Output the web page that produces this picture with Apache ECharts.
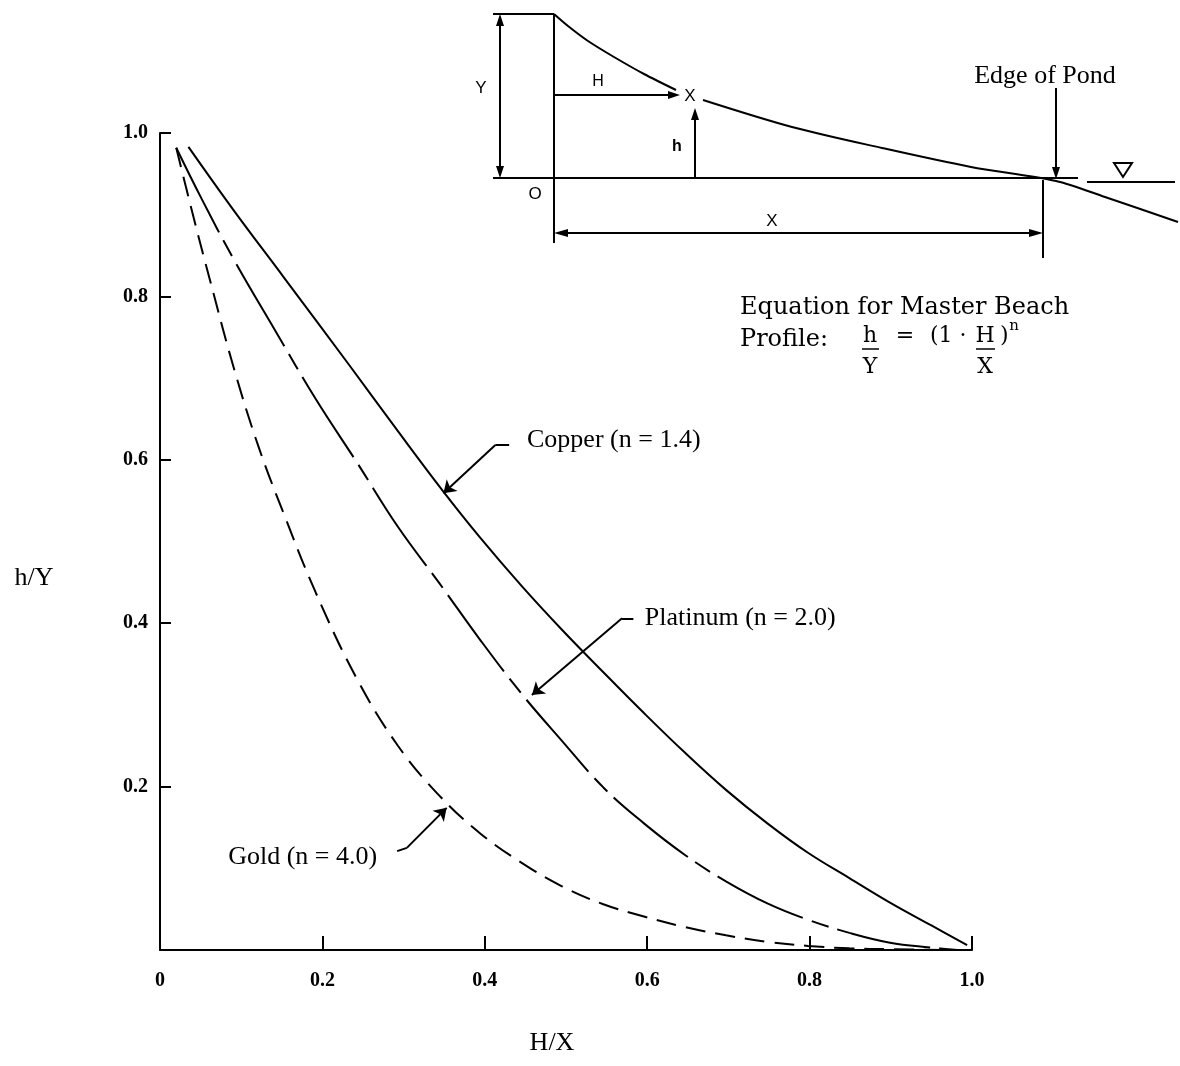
<!DOCTYPE html>
<html><head><meta charset="utf-8">
<script src="https://cdn.jsdelivr.net/npm/echarts@6/dist/echarts.min.js"></script>
<style>html,body{margin:0;padding:0;background:#fff}#c{width:1180px;height:1066px}</style>
</head><body><div id="c"></div>
<script>
// ---- data ----
const xTickLabels = ['0', '0.2', '0.4', '0.6', '0.8', '1.0'];
const yTickLabels = ['', '0.2', '0.4', '0.6', '0.8', '1.0'];

const copperX = [0.035, 0.091, 0.152, 0.233, 0.293, 0.349, 0.394, 0.445, 0.495, 0.546, 0.596, 0.647, 0.697, 0.748, 0.798, 0.849, 0.899, 0.950, 0.994];
const copperY = [0.983, 0.905, 0.824, 0.716, 0.635, 0.561, 0.505, 0.446, 0.392, 0.340, 0.290, 0.241, 0.196, 0.155, 0.119, 0.088, 0.058, 0.030, 0.006];

const platinumX = [0.020, 0.051, 0.091, 0.142, 0.192, 0.243, 0.293, 0.344, 0.394, 0.445, 0.495, 0.546, 0.596, 0.647, 0.697, 0.748, 0.798, 0.849, 0.899, 0.950, 0.982];
const platinumY = [0.982, 0.920, 0.845, 0.758, 0.674, 0.596, 0.518, 0.449, 0.380, 0.314, 0.256, 0.199, 0.155, 0.116, 0.084, 0.057, 0.037, 0.021, 0.009, 0.003, 0.000];

const goldX = [0.020, 0.040, 0.061, 0.091, 0.121, 0.152, 0.192, 0.243, 0.293, 0.344, 0.394, 0.445, 0.495, 0.546, 0.596, 0.647, 0.697, 0.748, 0.798, 0.849, 0.899, 0.980];
const goldY = [0.982, 0.902, 0.822, 0.712, 0.617, 0.535, 0.437, 0.331, 0.250, 0.189, 0.143, 0.107, 0.078, 0.056, 0.041, 0.028, 0.018, 0.010, 0.005, 0.002, 0.001, 0.000];

const seriesNames = ['Copper (n = 1.4)', 'Platinum (n = 2.0)', 'Gold (n = 4.0)'];
// annotation anchor points (data coords): text start, leader start, leader bend, arrow tip
const labelPos = [[0.452, 0.624], [0.597, 0.406], [0.084, 0.114]];
const leaderStart = [[0.430, 0.618], [0.583, 0.406], [0.292, 0.121]];
const leaderBend = [[0.413, 0.618], [0.569, 0.406], [0.304, 0.125]];
const leaderTip = [[0.349, 0.559], [0.458, 0.312], [0.353, 0.174]];

const zip = (xs, ys) => xs.map((x, i) => [x, ys[i]]);
const SERIF = '"Liberation Serif", "DejaVu Serif", serif';
const WIDE = '"DejaVu Serif", "Liberation Serif", serif';
const SANS = '"Liberation Sans", Arial, sans-serif';

const chart = echarts.init(document.getElementById('c'));

function head(x, y, dx, dy, len, w) {
  len = len || 12; w = w || 4;
  const bx = x - dx * len, by = y - dy * len, px = -dy, py = dx;
  return { type: 'polygon', shape: { points: [[x, y], [bx + px * w, by + py * w], [bx - px * w, by - py * w]] }, style: { fill: '#000' } };
}
function seg(x1, y1, x2, y2, w) {
  return { type: 'line', shape: { x1, y1, x2, y2 }, style: { stroke: '#000', lineWidth: w || 2 } };
}
function txt(t, x, y, size, align, family, weight) {
  return { type: 'text', x, y, z: 10, style: { text: t, font: (weight || 'normal') + ' ' + size + 'px ' + (family || SERIF), fill: '#000', align: align || 'center', verticalAlign: 'middle' } };
}

// inset schematic (decorative drawing)
const inset = [
  seg(493, 14, 554, 14),
  seg(554, 14, 554, 243),
  seg(500, 18, 500, 174), head(500, 14, 0, -1), head(500, 178, 0, 1),
  seg(493, 178, 1078, 178),
  seg(1087, 182, 1175, 182),
  { type: 'polygon', shape: { points: [[1114, 163], [1132, 163], [1123, 177]] }, style: { fill: '#fff', stroke: '#000', lineWidth: 2 } },
  { type: 'polyline', shape: { points: [[554, 14], [568, 26], [588, 41], [614, 57], [644, 74], [676, 90]], smooth: 0.3 }, style: { stroke: '#000', lineWidth: 2, fill: null } },
  { type: 'polyline', shape: { points: [[703, 100], [792, 127], [882, 148], [971, 167], [1056, 181], [1105, 197], [1178, 222]], smooth: 0.3 }, style: { stroke: '#000', lineWidth: 2, fill: null } },
  seg(554, 95, 668, 95), head(680, 95, 1, 0),
  seg(695, 178, 695, 120), head(695, 108, 0, -1),
  seg(560, 233, 1036, 233), head(554, 233, -1, 0, 14), head(1043, 233, 1, 0, 14),
  seg(1043, 180, 1043, 258),
  seg(1056, 88, 1056, 168), head(1056, 179, 0, 1),
  txt('Y', 481, 88, 17, 'center', SANS), txt('H', 598, 82, 16, 'center', SANS), txt('X', 690, 96, 17, 'center', SANS),
  txt('h', 677, 147, 16, 'center', SANS, 'bold'),
  txt('O', 535, 194, 17, 'center', SANS), txt('X', 772, 221, 17, 'center', SANS),
  txt('Edge of Pond', 1045, 76, 26)
];
const equation = [
  txt('Equation for Master Beach', 740, 308, 24, 'left', WIDE),
  txt('Profile:', 740, 340, 24, 'left', WIDE),
  txt('h', 870, 336, 22, 'center', WIDE), seg(862, 349, 879, 349, 1.5), txt('Y', 870, 367, 22, 'center', WIDE),
  txt('=', 905, 336, 22, 'center', WIDE),
  txt('(1 ·', 930, 336, 22, 'left', WIDE),
  txt('H', 985, 336, 22, 'center', WIDE), seg(976, 349, 995, 349, 1.5), txt('X', 985, 367, 22, 'center', WIDE),
  txt(')', 1000, 336, 22, 'left', WIDE),
  txt('n', 1014, 326, 15, 'center', WIDE)
];
const axisNames = [
  txt('h/Y', 34, 578, 26),
  txt('H/X', 552, 1043, 26)
];

const option = {
  animation: false,
  backgroundColor: '#fff',
  grid: { left: 160, right: 208, top: 133, bottom: 116, containLabel: false },
  xAxis: {
    type: 'value', min: 0, max: 1, interval: 0.2,
    axisLine: { lineStyle: { color: '#000', width: 2 } },
    axisTick: { inside: true, length: 14, customValues: [0.2, 0.4, 0.6, 0.8, 1.0], lineStyle: { color: '#000', width: 2 } },
    axisLabel: { formatter: v => xTickLabels[Math.round(v / 0.2)], color: '#000', fontFamily: SERIF, fontWeight: 'bold', fontSize: 20, margin: 21 },
    splitLine: { show: false }
  },
  yAxis: {
    type: 'value', min: 0, max: 1, interval: 0.2,
    axisLine: { lineStyle: { color: '#000', width: 2 } },
    axisTick: { inside: true, length: 11, lineStyle: { color: '#000', width: 2 } },
    axisLabel: { formatter: v => yTickLabels[Math.round(v / 0.2)], color: '#000', fontFamily: SERIF, fontWeight: 'bold', fontSize: 20, margin: 12 },
    splitLine: { show: false }
  },
  series: [
    { name: seriesNames[0], type: 'line', data: zip(copperX, copperY), showSymbol: false, smooth: 0.4,
      lineStyle: { color: '#000', width: 2, type: 'solid' } },
    { name: seriesNames[1], type: 'line', data: zip(platinumX, platinumY), showSymbol: false, smooth: 0.4,
      lineStyle: { color: '#000', width: 2, type: [95, 9, 18, 9] } },
    { name: seriesNames[2], type: 'line', data: zip(goldX, goldY), showSymbol: false, smooth: 0.4,
      lineStyle: { color: '#000', width: 2, type: [20, 10] } },
    { type: 'lines', coordinateSystem: 'cartesian2d', silent: true, symbol: ['none', 'none'],
      lineStyle: { color: '#000', width: 2, opacity: 1 },
      data: leaderStart.map((p, i) => ({ coords: [p, leaderBend[i]] })) },
    { type: 'lines', coordinateSystem: 'cartesian2d', silent: true, symbol: ['none', 'arrow'], symbolSize: 12,
      lineStyle: { color: '#000', width: 2, opacity: 1 },
      data: leaderBend.map((p, i) => ({ coords: [p, leaderTip[i]] })) }
  ]
};
chart.setOption(option);

// curve labels placed at data positions through the grid's own scales
const curveLabels = labelPos.map((p, i) => {
  const px = chart.convertToPixel({ gridIndex: 0 }, p);
  return txt(seriesNames[i], px[0], px[1], 26, 'left');
});
chart.setOption({ graphic: inset.concat(equation, axisNames, curveLabels) });
</script></body></html>
